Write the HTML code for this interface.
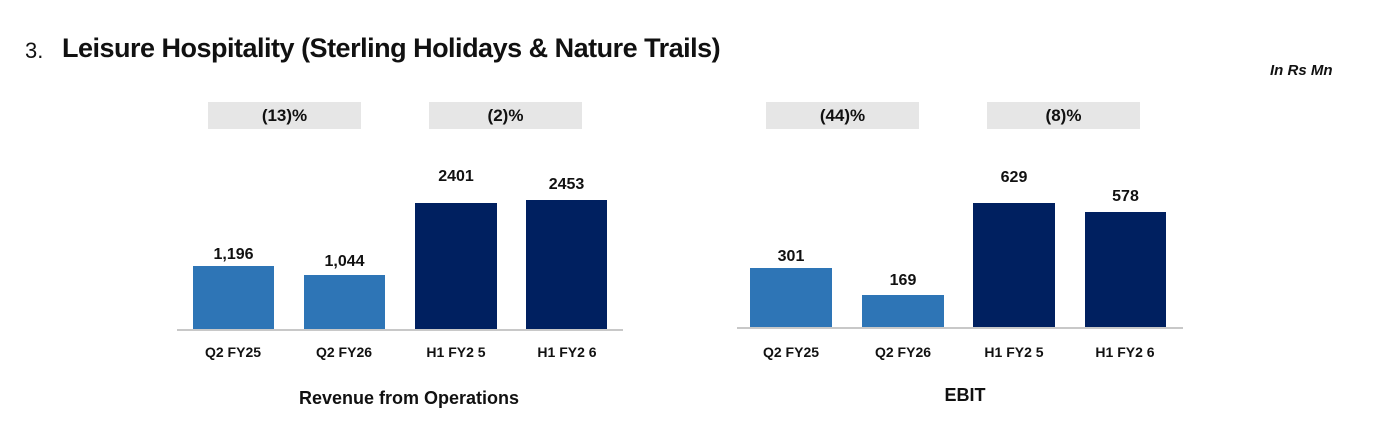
<!DOCTYPE html>
<html><head><style>
body{margin:0;width:1382px;height:436px;background:#fff;position:relative;overflow:hidden;font-family:"Liberation Sans",sans-serif;}
.a{position:absolute}
.t{font-weight:bold;color:#111;text-align:center;font-size:15px;}
.bar{position:absolute}
.lb{background:#2E75B6}.db{background:#002060}
.box{position:absolute;background:#e6e6e6;height:27px;width:153px;font-weight:bold;font-size:17px;text-align:center;line-height:27px;color:#111}
.ax{position:absolute;height:2px;background:#c8c8c8}
.cat{position:absolute;width:100px;text-align:center;font-weight:bold;font-size:14px;color:#111}
</style></head><body>
<div class="a" style="left:25px;top:38px;font-size:22px;color:#111">3.</div>
<div class="a" style="left:62px;top:33px;font-size:27px;font-weight:bold;color:#111;letter-spacing:-0.5px">Leisure Hospitality (Sterling Holidays &amp; Nature Trails)</div>
<div class="a" style="left:1270px;top:62px;font-size:15px;font-weight:bold;font-style:italic;color:#111">In Rs Mn</div>

<div class="box" style="left:208px;top:102px">(13)%</div>
<div class="box" style="left:429px;top:102px">(2)%</div>
<div class="box" style="left:766px;top:102px">(44)%</div>
<div class="box" style="left:987px;top:102px">(8)%</div>

<div class="bar lb" style="left:193px;top:266px;width:81px;height:64px"></div>
<div class="bar lb" style="left:304px;top:275px;width:81px;height:55px"></div>
<div class="bar db" style="left:415px;top:203px;width:82px;height:127px"></div>
<div class="bar db" style="left:526px;top:200px;width:81px;height:130px"></div>
<div class="ax" style="left:177px;top:329px;width:446px"></div>
<div class="a t" style="left:193px;top:246px;width:81px;font-size:16px">1,196</div>
<div class="a t" style="left:304px;top:253px;width:81px;font-size:16px">1,044</div>
<div class="a t" style="left:415px;top:168px;width:82px;font-size:16px">2401</div>
<div class="a t" style="left:526px;top:176px;width:81px;font-size:16px">2453</div>
<div class="cat" style="left:183px;top:344px">Q2 FY25</div>
<div class="cat" style="left:294px;top:344px">Q2 FY26</div>
<div class="cat" style="left:406px;top:344px">H1 FY2 5</div>
<div class="cat" style="left:517px;top:344px">H1 FY2 6</div>
<div class="a t" style="left:259px;top:388px;width:300px;font-size:18px">Revenue from Operations</div>

<div class="bar lb" style="left:750px;top:268px;width:82px;height:60px"></div>
<div class="bar lb" style="left:862px;top:295px;width:82px;height:33px"></div>
<div class="bar db" style="left:973px;top:203px;width:82px;height:125px"></div>
<div class="bar db" style="left:1085px;top:212px;width:81px;height:116px"></div>
<div class="ax" style="left:737px;top:327px;width:446px"></div>
<div class="a t" style="left:750px;top:248px;width:82px;font-size:16px">301</div>
<div class="a t" style="left:862px;top:272px;width:82px;font-size:16px">169</div>
<div class="a t" style="left:973px;top:169px;width:82px;font-size:16px">629</div>
<div class="a t" style="left:1085px;top:188px;width:81px;font-size:16px">578</div>
<div class="cat" style="left:741px;top:344px">Q2 FY25</div>
<div class="cat" style="left:853px;top:344px">Q2 FY26</div>
<div class="cat" style="left:964px;top:344px">H1 FY2 5</div>
<div class="cat" style="left:1075px;top:344px">H1 FY2 6</div>
<div class="a t" style="left:915px;top:385px;width:100px;font-size:18px">EBIT</div>
</body></html>
